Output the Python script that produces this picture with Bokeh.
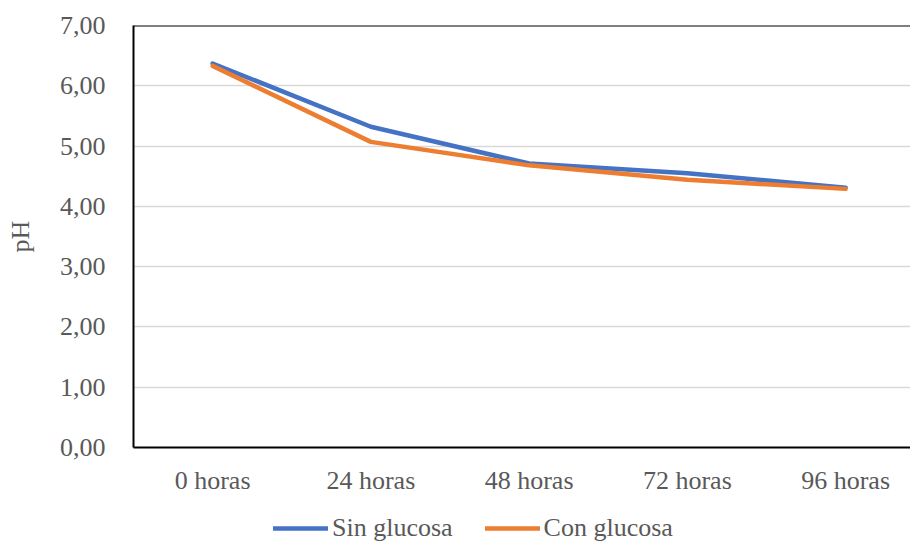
from bokeh.plotting import figure
from bokeh.layouts import column
from bokeh.models import (Range1d, FixedTicker, Span, Legend, LegendItem)
from bokeh.embed import file_html
from bokeh.resources import INLINE

# pH readings over time, with and without glucose
horas = ["0 horas", "24 horas", "48 horas", "72 horas", "96 horas"]
sin_glucosa = [6.37, 5.32, 4.71, 4.55, 4.31]
con_glucosa = [6.33, 5.07, 4.68, 4.44, 4.29]
ph_ticks = [0, 1, 2, 3, 4, 5, 6, 7]
ph_labels = ["0,00", "1,00", "2,00", "3,00", "4,00", "5,00", "6,00", "7,00"]
series_names = ["Sin glucosa", "Con glucosa"]
series_colors = ["#4472C4", "#ED7D31"]

FONT = "Liberation Serif"
GREY = "#595959"

# each category sits in the middle of a unit-wide band
xs = [i + 0.5 for i in range(len(horas))]

p = figure(width=910, height=505, output_backend="svg", toolbar_location=None,
           x_range=Range1d(0, 4.91), y_range=Range1d(0, 7),
           min_border_left=133, min_border_right=0,
           min_border_top=25, min_border_bottom=58)
p.outline_line_color = None
p.background_fill_color = "white"
p.border_fill_color = "white"

# x axis: category names at band centres
p.xaxis.ticker = FixedTicker(ticks=xs)
p.xaxis.major_label_overrides = {x: h for x, h in zip(xs, horas)}
p.xaxis.major_tick_line_color = None
p.xaxis.minor_tick_line_color = None
p.xaxis.axis_line_color = "black"
p.xaxis.axis_line_width = 2
p.xaxis.major_label_text_font = FONT
p.xaxis.major_label_text_font_size = "26px"
p.xaxis.major_label_text_color = GREY
p.xaxis.major_label_standoff = 12

# y axis: pH with decimal comma labels
p.yaxis.ticker = FixedTicker(ticks=ph_ticks)
p.yaxis.major_label_overrides = {t: l for t, l in zip(ph_ticks, ph_labels)}
p.yaxis.major_tick_line_color = None
p.yaxis.minor_tick_line_color = None
p.yaxis.axis_line_color = "black"
p.yaxis.axis_line_width = 2
p.yaxis.major_label_text_font = FONT
p.yaxis.major_label_text_font_size = "26px"
p.yaxis.major_label_text_color = GREY
p.yaxis.major_label_standoff = 22
p.yaxis.axis_label = "pH"
p.yaxis.axis_label_text_font = FONT
p.yaxis.axis_label_text_font_size = "26px"
p.yaxis.axis_label_text_font_style = "normal"
p.yaxis.axis_label_text_color = GREY
p.yaxis.axis_label_standoff = 22

p.xgrid.grid_line_color = None
p.ygrid.grid_line_color = "#d9d9d9"
p.ygrid.grid_line_width = 1.5

# top border of the plot area
p.add_layout(Span(location=7, dimension="width", line_color="black", line_width=2))

for vals, color in zip([sin_glucosa, con_glucosa], series_colors):
    p.line(xs, vals, line_color=color, line_width=4.5,
           line_join="round", line_cap="round")

# legend strip underneath the chart (its frame lines up with the chart's frame)
leg = figure(width=910, height=39, output_backend="svg", toolbar_location=None,
             x_range=Range1d(0, 1), y_range=Range1d(0, 1),
             min_border=0, x_axis_type=None, y_axis_type=None)
leg.outline_line_color = None
leg.xgrid.grid_line_color = None
leg.ygrid.grid_line_color = None
items = []
for name, color in zip(series_names, series_colors):
    # single-point line: nothing drawn, only used for the legend swatch
    r = leg.line(x=[0], y=[0], line_color=color, line_width=4.5, line_cap="round")
    items.append(LegendItem(label=name, renderers=[r]))
legend = Legend(items=items, orientation="horizontal", location=(140, 1),
                glyph_width=55, glyph_height=20, label_standoff=4, spacing=32,
                padding=0, margin=0, border_line_color=None,
                background_fill_alpha=0,
                label_text_font=FONT, label_text_font_size="26px",
                label_text_color=GREY)
leg.add_layout(legend, "center")

layout = column(p, leg, spacing=0)
open("out.html", "w").write(file_html(layout, INLINE))
